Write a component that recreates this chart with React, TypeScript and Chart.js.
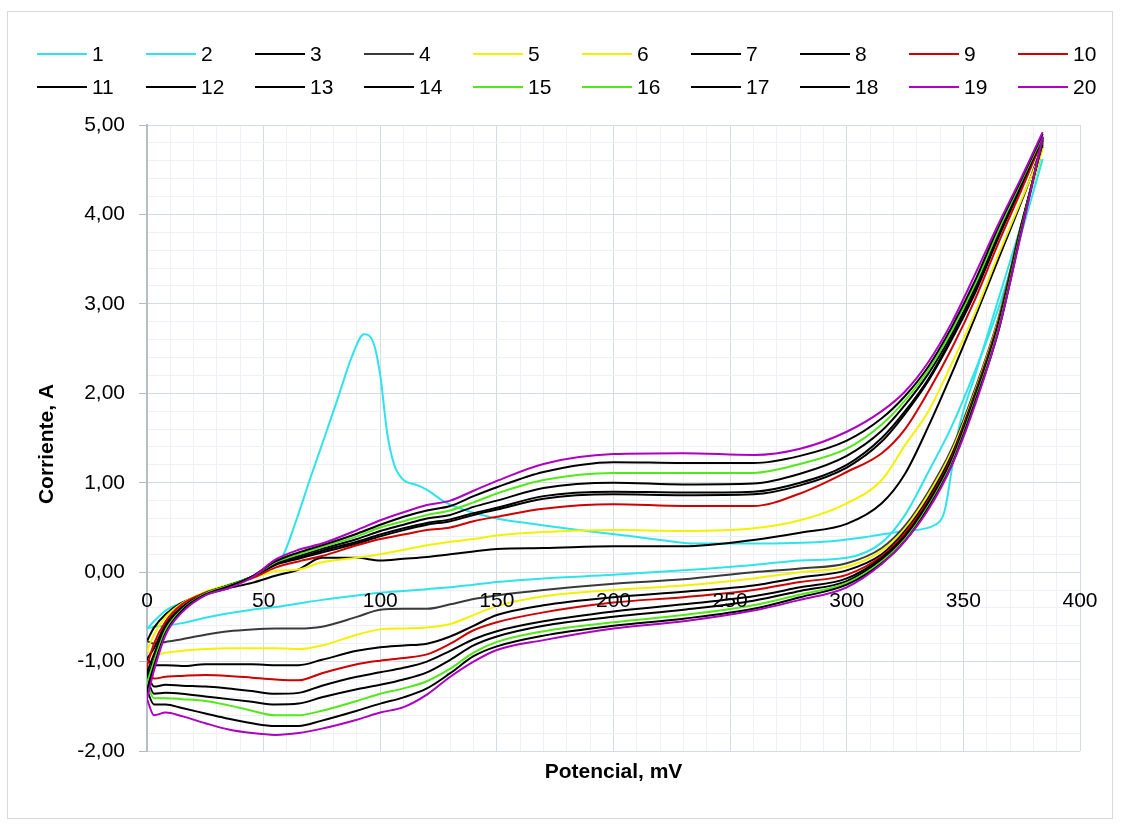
import React, { useEffect, useRef } from 'react';
import { Chart, registerables } from 'chart.js';

Chart.register(...registerables);

// Potential grid (mV) shared by series 2-20
const POTENTIAL = [0, 3, 8, 15, 25, 35, 45, 55, 65, 75, 90, 100, 110, 120, 130, 140, 150, 170, 200, 230, 260, 280, 300, 315, 325, 335, 345, 355, 365, 375, 384];
// Potential grid (mV) for series 1 (first sweep with the peak)
const POTENTIAL_S1 = [0, 3, 8, 15, 25, 35, 45, 52, 58, 64, 70, 76, 82, 88, 93, 97, 100, 103, 106, 110, 115, 120, 128, 138, 150, 165, 185, 205, 220, 235, 260, 290, 310, 325, 338, 342, 345, 348, 355, 365, 375, 383];

// Current (A)
const S1 = [-0.63, -0.55, -0.43, -0.34, -0.23, -0.14, -0.05, 0.04, 0.17, 0.58, 1.05, 1.5, 1.96, 2.42, 2.66, 2.57, 2.2, 1.55, 1.2, 1.03, 0.98, 0.92, 0.78, 0.68, 0.6, 0.54, 0.47, 0.41, 0.36, 0.32, 0.32, 0.34, 0.4, 0.46, 0.53, 0.69, 1.14, 1.6, 2.2, 3.05, 3.9, 4.62];
const S2 = [-0.63, -0.61, -0.60, -0.57, -0.51, -0.46, -0.42, -0.39, -0.35, -0.31, -0.26, -0.23, -0.21, -0.19, -0.17, -0.14, -0.11, -0.07, -0.03, 0.02, 0.08, 0.13, 0.16, 0.33, 0.64, 1.12, 1.63, 2.25, 2.95, 3.80, 4.62];
const S3 = [-0.77, -0.62, -0.47, -0.34, -0.25, -0.18, -0.12, -0.04, 0.03, 0.16, 0.16, 0.13, 0.15, 0.17, 0.20, 0.23, 0.26, 0.27, 0.29, 0.29, 0.36, 0.44, 0.54, 0.77, 1.10, 1.63, 2.22, 2.85, 3.50, 4.15, 4.78];
const S4 = [-0.77, -0.80, -0.78, -0.75, -0.70, -0.66, -0.64, -0.63, -0.63, -0.61, -0.50, -0.42, -0.41, -0.41, -0.36, -0.30, -0.26, -0.20, -0.13, -0.08, 0.00, 0.04, 0.10, 0.27, 0.52, 0.90, 1.38, 2.05, 2.84, 3.90, 4.76];
const S5 = [-0.88, -0.70, -0.50, -0.35, -0.22, -0.14, -0.07, 0.01, 0.03, 0.11, 0.16, 0.20, 0.25, 0.30, 0.34, 0.37, 0.41, 0.45, 0.47, 0.46, 0.49, 0.58, 0.77, 1.03, 1.42, 1.80, 2.33, 2.90, 3.55, 4.17, 4.74];
const S6 = [-0.88, -0.93, -0.90, -0.88, -0.86, -0.85, -0.85, -0.85, -0.86, -0.82, -0.70, -0.64, -0.63, -0.62, -0.58, -0.48, -0.38, -0.27, -0.20, -0.15, -0.07, 0.00, 0.06, 0.24, 0.49, 0.87, 1.35, 2.02, 2.82, 3.88, 4.74];
const S7 = [-0.97, -0.85, -0.58, -0.39, -0.24, -0.15, -0.06, 0.08, 0.15, 0.22, 0.32, 0.40, 0.47, 0.53, 0.57, 0.64, 0.70, 0.82, 0.87, 0.86, 0.87, 0.97, 1.17, 1.46, 1.77, 2.14, 2.60, 3.12, 3.74, 4.32, 4.85];
const S8 = [-0.97, -1.04, -1.04, -1.05, -1.03, -1.03, -1.03, -1.04, -1.04, -0.98, -0.88, -0.84, -0.82, -0.80, -0.72, -0.60, -0.48, -0.37, -0.28, -0.22, -0.15, -0.06, 0.02, 0.20, 0.46, 0.83, 1.31, 2.00, 2.80, 3.90, 4.80];
const S9 = [-1.05, -0.80, -0.55, -0.36, -0.23, -0.15, -0.07, 0.05, 0.12, 0.18, 0.30, 0.37, 0.42, 0.47, 0.50, 0.57, 0.62, 0.71, 0.76, 0.74, 0.74, 0.88, 1.12, 1.33, 1.60, 2.02, 2.50, 3.05, 3.68, 4.28, 4.84];
const S10 = [-1.05, -1.19, -1.17, -1.16, -1.15, -1.16, -1.18, -1.20, -1.21, -1.13, -1.03, -0.99, -0.96, -0.92, -0.80, -0.65, -0.56, -0.45, -0.34, -0.28, -0.20, -0.11, -0.03, 0.18, 0.44, 0.80, 1.28, 1.98, 2.78, 3.88, 4.82];
const S11 = [-1.12, -0.92, -0.61, -0.40, -0.24, -0.15, -0.05, 0.09, 0.16, 0.24, 0.34, 0.42, 0.49, 0.55, 0.59, 0.66, 0.72, 0.85, 0.90, 0.89, 0.90, 1.00, 1.20, 1.50, 1.80, 2.16, 2.62, 3.14, 3.76, 4.34, 4.86];
const S12 = [-1.12, -1.28, -1.26, -1.27, -1.28, -1.30, -1.33, -1.36, -1.35, -1.27, -1.17, -1.12, -1.07, -1.00, -0.88, -0.75, -0.66, -0.55, -0.44, -0.36, -0.27, -0.17, -0.07, 0.16, 0.41, 0.78, 1.26, 1.96, 2.76, 3.87, 4.83];
const S13 = [-1.18, -0.98, -0.64, -0.41, -0.24, -0.15, -0.05, 0.10, 0.18, 0.26, 0.37, 0.46, 0.53, 0.60, 0.64, 0.73, 0.80, 0.94, 1.00, 0.98, 0.99, 1.10, 1.30, 1.58, 1.87, 2.22, 2.66, 3.18, 3.79, 4.36, 4.87];
const S14 = [-1.18, -1.36, -1.35, -1.36, -1.39, -1.42, -1.45, -1.48, -1.47, -1.40, -1.31, -1.26, -1.20, -1.12, -0.98, -0.82, -0.72, -0.60, -0.50, -0.42, -0.32, -0.21, -0.10, 0.14, 0.39, 0.76, 1.24, 1.94, 2.74, 3.86, 4.84];
const S15 = [-1.24, -1.00, -0.65, -0.42, -0.24, -0.15, -0.05, 0.11, 0.20, 0.28, 0.40, 0.50, 0.57, 0.64, 0.69, 0.78, 0.88, 1.03, 1.11, 1.11, 1.11, 1.21, 1.38, 1.65, 1.92, 2.26, 2.70, 3.22, 3.82, 4.38, 4.88];
const S16 = [-1.24, -1.41, -1.41, -1.42, -1.44, -1.49, -1.55, -1.60, -1.60, -1.55, -1.44, -1.36, -1.30, -1.22, -1.08, -0.90, -0.78, -0.66, -0.56, -0.48, -0.37, -0.25, -0.12, 0.12, 0.37, 0.74, 1.22, 1.92, 2.72, 3.85, 4.85];
const S17 = [-1.32, -1.05, -0.68, -0.43, -0.25, -0.16, -0.05, 0.12, 0.22, 0.30, 0.43, 0.53, 0.62, 0.69, 0.74, 0.85, 0.95, 1.12, 1.23, 1.22, 1.22, 1.30, 1.47, 1.72, 1.97, 2.30, 2.74, 3.26, 3.86, 4.40, 4.90];
const S18 = [-1.32, -1.48, -1.48, -1.52, -1.58, -1.64, -1.69, -1.72, -1.72, -1.66, -1.55, -1.47, -1.40, -1.30, -1.13, -0.94, -0.83, -0.71, -0.60, -0.52, -0.41, -0.28, -0.14, 0.10, 0.35, 0.72, 1.20, 1.90, 2.69, 3.83, 4.86];
const S19 = [-1.42, -1.10, -0.70, -0.45, -0.26, -0.18, -0.06, 0.14, 0.25, 0.32, 0.47, 0.58, 0.67, 0.75, 0.80, 0.91, 1.02, 1.21, 1.32, 1.33, 1.31, 1.38, 1.57, 1.80, 2.02, 2.35, 2.79, 3.33, 3.89, 4.42, 4.92];
const S20 = [-1.42, -1.60, -1.57, -1.61, -1.69, -1.76, -1.80, -1.82, -1.80, -1.75, -1.65, -1.57, -1.51, -1.37, -1.17, -1.00, -0.87, -0.76, -0.63, -0.55, -0.43, -0.31, -0.17, 0.09, 0.35, 0.70, 1.19, 1.87, 2.70, 3.81, 4.87];

const SERIES_LABELS = ['1', '2', '3', '4', '5', '6', '7', '8', '9', '10', '11', '12', '13', '14', '15', '16', '17', '18', '19', '20'];
const SERIES_VALUES = [S1, S2, S3, S4, S5, S6, S7, S8, S9, S10, S11, S12, S13, S14, S15, S16, S17, S18, S19, S20];
const SERIES_X = [POTENTIAL_S1, POTENTIAL, POTENTIAL, POTENTIAL, POTENTIAL, POTENTIAL, POTENTIAL, POTENTIAL, POTENTIAL, POTENTIAL, POTENTIAL, POTENTIAL, POTENTIAL, POTENTIAL, POTENTIAL, POTENTIAL, POTENTIAL, POTENTIAL, POTENTIAL, POTENTIAL];

const CYAN = '#2fe3ea';
const BLACK = '#000000';
const DARK = '#3a3a3a';
const YELLOW = '#f2f200';
const RED = '#d00000';
const GREEN = '#52e81a';
const PURPLE = '#ad00c2';
const SERIES_COLORS = [CYAN, CYAN, BLACK, DARK, YELLOW, YELLOW, BLACK, BLACK, RED, RED, BLACK, BLACK, BLACK, BLACK, GREEN, GREEN, BLACK, BLACK, PURPLE, PURPLE];

const X_LABELS = [0, 50, 100, 150, 200, 250, 300, 350, 400];
const X_MIN = 0, X_MAX = 400, X_MINOR = 10, X_MAJOR = 50;
const Y_MIN = -2, Y_MAX = 5, Y_MINOR = 0.2;

const FONT = "'Liberation Sans', Arial, sans-serif";
const MAJOR_GRID = '#d5dae3';
const MINOR_GRID = '#edf0f4';
const AXIS_COLOR = '#b5bdcb';

const isMajorY = (v: number) => Math.abs(v - Math.round(v)) < 1e-6;
const isMajorX = (v: number) => Math.abs(v / X_MAJOR - Math.round(v / X_MAJOR)) < 1e-6;

const overlayPlugin = {
  id: 'overlay',
  afterDraw(chart: any) {
    const { ctx, chartArea, scales } = chart;
    const xs = scales.x;
    const ys = scales.y;
    ctx.save();
    ctx.fillStyle = '#000';
    ctx.font = `21px ${FONT}`;
    ctx.textAlign = 'center';
    ctx.textBaseline = 'middle';
    const y0 = ys.getPixelForValue(0);
    X_LABELS.forEach((v) => {
      ctx.fillText(String(v), xs.getPixelForValue(v), y0 + 29);
    });

    ctx.font = `bold 21px ${FONT}`;
    ctx.fillText('Potencial, mV', (chartArea.left + chartArea.right) / 2, chartArea.bottom + 21);
    ctx.save();
    ctx.translate(39, (chartArea.top + chartArea.bottom) / 2 + 6);
    ctx.rotate(-Math.PI / 2);
    ctx.fillText('Corriente, A', 0, 0);
    ctx.restore();

    // legend: 10 columns x 2 rows
    ctx.font = `21px ${FONT}`;
    ctx.textAlign = 'left';
    SERIES_LABELS.forEach((label, i) => {
      const col = i % 10;
      const row = Math.floor(i / 10);
      const lx = 29 + 109 * col;
      const ly = 42 + 33 * row;
      ctx.strokeStyle = SERIES_COLORS[i];
      ctx.lineWidth = 2;
      ctx.beginPath();
      ctx.moveTo(lx, ly);
      ctx.lineTo(lx + 50, ly);
      ctx.stroke();
      ctx.fillStyle = '#000';
      ctx.fillText(label, lx + 55, ly + 1);
    });
    ctx.restore();
  },
};

export default function App() {
  const canvasRef = useRef<HTMLCanvasElement | null>(null);

  useEffect(() => {
    if (!canvasRef.current) return;
    const datasets = SERIES_VALUES.map((vals, i) => ({
      label: SERIES_LABELS[i],
      data: vals.map((v, j) => ({ x: SERIES_X[i][j], y: v })),
      borderColor: SERIES_COLORS[i],
      backgroundColor: SERIES_COLORS[i],
      borderWidth: 2,
      pointRadius: 0,
      fill: false,
      cubicInterpolationMode: 'monotone' as const,
      order: 20 - i,
    }));

    const yTicks: number[] = [];
    for (let k = 0; k <= Math.round((Y_MAX - Y_MIN) / Y_MINOR); k++) {
      yTicks.push(Math.round((Y_MIN + k * Y_MINOR) * 100) / 100);
    }
    const xTicks: number[] = [];
    for (let v = X_MIN; v <= X_MAX; v += X_MINOR) xTicks.push(v);

    const chart = new Chart(canvasRef.current, {
      type: 'line',
      data: { datasets },
      plugins: [overlayPlugin],
      options: {
        animation: false,
        responsive: false,
        events: [],
        layout: { padding: { top: 113, left: 0, right: 32, bottom: 0 } },
        plugins: {
          legend: { display: false },
          tooltip: { enabled: false },
          title: { display: false },
        },
        scales: {
          x: {
            type: 'linear',
            min: X_MIN,
            max: X_MAX,
            afterBuildTicks: (s: any) => {
              s.ticks = xTicks.map((v) => ({ value: v }));
            },
            afterFit: (s: any) => {
              s.height = 67;
            },
            ticks: { display: false },
            grid: {
              drawTicks: false,
              lineWidth: 1,
              color: (c: any) => (c.tick && isMajorX(c.tick.value) ? MAJOR_GRID : MINOR_GRID),
            },
            border: { display: false },
          },
          y: {
            type: 'linear',
            min: Y_MIN,
            max: Y_MAX,
            afterBuildTicks: (s: any) => {
              s.ticks = yTicks.map((v) => ({ value: v }));
            },
            afterFit: (s: any) => {
              s.width = 139;
            },
            ticks: {
              autoSkip: false,
              padding: 14,
              color: '#000',
              font: { family: FONT, size: 21 },
              callback: (v: any) => (isMajorY(Number(v)) ? Number(v).toFixed(2).replace('.', ',') : ''),
            },
            grid: {
              drawTicks: true,
              tickLength: 8,
              lineWidth: 1,
              color: (c: any) => (c.tick && isMajorY(c.tick.value) ? MAJOR_GRID : MINOR_GRID),
              tickColor: (c: any) => (c.tick && isMajorY(c.tick.value) ? AXIS_COLOR : 'rgba(0,0,0,0)'),
            },
            border: { display: true, color: AXIS_COLOR, width: 2 },
          },
        },
      },
    });
    return () => chart.destroy();
  }, []);

  return (
    <div
      style={{
        position: 'absolute',
        left: 7,
        top: 11,
        width: 1106,
        height: 808,
        border: '1px solid #d9d9d9',
        boxSizing: 'border-box',
        background: '#fff',
      }}
    >
      <canvas ref={canvasRef} width={1104} height={806} style={{ display: 'block' }} />
    </div>
  );
}
